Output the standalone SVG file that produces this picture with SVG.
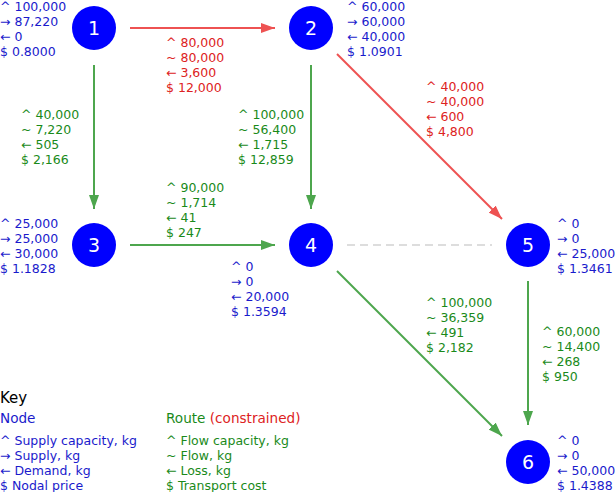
<svg xmlns="http://www.w3.org/2000/svg" width="615" height="492" viewBox="0 0 615 492">
<style>
text{font-family:"DejaVu Sans","Liberation Sans",sans-serif;font-size:12.5px}
.nb{fill:#1a1acc}
.g{fill:#1a8a1a}
.r{fill:#dd2222}
.num{fill:#ffffff;font-size:19px;text-anchor:middle}
.node{fill:#0000ff}
.eg{stroke:#4da64d;stroke-width:2;fill:none}
.er{stroke:#ee5252;stroke-width:2;fill:none}
.dash{stroke:#dddddd;stroke-width:2;stroke-dasharray:8,5;fill:none}
.key{fill:#000000;font-size:15px}
.hd{font-size:13.6px}
</style>
<defs>
<marker id="ag" viewBox="0 0 14 10" refX="14" refY="5" markerWidth="14" markerHeight="10" markerUnits="userSpaceOnUse" orient="auto"><path d="M0,0 L14,5 L0,10 Z" fill="#4da64d"/></marker>
<marker id="ar" viewBox="0 0 14 10" refX="14" refY="5" markerWidth="14" markerHeight="10" markerUnits="userSpaceOnUse" orient="auto"><path d="M0,0 L14,5 L0,10 Z" fill="#ee5252"/></marker>
</defs>
<g id="connectors">
<line class="er" x1="130" y1="28" x2="275" y2="28" marker-end="url(#ar)"/>
<line class="eg" x1="94" y1="65" x2="94" y2="209" marker-end="url(#ag)"/>
<line class="eg" x1="311" y1="65" x2="311" y2="209" marker-end="url(#ag)"/>
<line class="eg" x1="130" y1="245" x2="275" y2="245" marker-end="url(#ag)"/>
<line class="er" x1="337" y1="54" x2="502" y2="219" marker-end="url(#ar)"/>
<line class="eg" x1="337" y1="271" x2="502" y2="436" marker-end="url(#ag)"/>
<line class="eg" x1="528" y1="281" x2="528" y2="425" marker-end="url(#ag)"/>
<line class="dash" x1="347" y1="245" x2="492" y2="245"/>
<g id="label-1-2" class="r"><text x="166" y="46.5">^ 80,000</text><text x="166" y="61.5">~ 80,000</text><text x="166" y="76.5">← 3,600</text><text x="166" y="91.5">$ 12,000</text></g>
<g id="label-1-3" class="g"><text x="21" y="118.5">^ 40,000</text><text x="21" y="133.5">~ 7,220</text><text x="21" y="148.5">← 505</text><text x="21" y="163.5">$ 2,166</text></g>
<g id="label-2-4" class="g"><text x="238" y="118.5">^ 100,000</text><text x="238" y="133.5">~ 56,400</text><text x="238" y="148.5">← 1,715</text><text x="238" y="163.5">$ 12,859</text></g>
<g id="label-3-4" class="g"><text x="166" y="191.5">^ 90,000</text><text x="166" y="206.5">~ 1,714</text><text x="166" y="221.5">← 41</text><text x="166" y="236.5">$ 247</text></g>
<g id="label-2-5" class="r"><text x="426" y="90.5">^ 40,000</text><text x="426" y="105.5">~ 40,000</text><text x="426" y="120.5">← 600</text><text x="426" y="135.5">$ 4,800</text></g>
<g id="label-4-6" class="g"><text x="426" y="306.5">^ 100,000</text><text x="426" y="321.5">~ 36,359</text><text x="426" y="336.5">← 491</text><text x="426" y="351.5">$ 2,182</text></g>
<g id="label-5-6" class="g"><text x="542" y="335.5">^ 60,000</text><text x="542" y="350.5">~ 14,400</text><text x="542" y="365.5">← 268</text><text x="542" y="380.5">$ 950</text></g>
</g>
<g id="node1"><circle class="node" cx="94" cy="28" r="22"/><text class="num" x="94" y="35">1</text>
<g class="nb"><text x="0" y="10.5">^ 100,000</text><text x="0" y="25.5">→ 87,220</text><text x="0" y="40.5">← 0</text><text x="0" y="55.5">$ 0.8000</text></g></g>
<g id="node2"><circle class="node" cx="311" cy="28" r="22"/><text class="num" x="311" y="35">2</text>
<g class="nb"><text x="347" y="10.5">^ 60,000</text><text x="347" y="25.5">→ 60,000</text><text x="347" y="40.5">← 40,000</text><text x="347" y="55.5">$ 1.0901</text></g></g>
<g id="node3"><circle class="node" cx="94" cy="245" r="22"/><text class="num" x="94" y="252">3</text>
<g class="nb"><text x="0" y="227.5">^ 25,000</text><text x="0" y="242.5">→ 25,000</text><text x="0" y="257.5">← 30,000</text><text x="0" y="272.5">$ 1.1828</text></g></g>
<g id="node4"><circle class="node" cx="311" cy="245" r="22"/><text class="num" x="311" y="252">4</text>
<g class="nb"><text x="231" y="270.5">^ 0</text><text x="231" y="285.5">→ 0</text><text x="231" y="300.5">← 20,000</text><text x="231" y="315.5">$ 1.3594</text></g></g>
<g id="node5"><circle class="node" cx="528" cy="245" r="22"/><text class="num" x="528" y="252">5</text>
<g class="nb"><text x="557" y="227.5">^ 0</text><text x="557" y="242.5">→ 0</text><text x="557" y="257.5">← 25,000</text><text x="557" y="272.5">$ 1.3461</text></g></g>
<g id="node6"><circle class="node" cx="528" cy="462" r="22"/><text class="num" x="528" y="469">6</text>
<g class="nb"><text x="557" y="444.5">^ 0</text><text x="557" y="459.5">→ 0</text><text x="557" y="474.5">← 50,000</text><text x="557" y="489.5">$ 1.4388</text></g></g>
<g id="key">
<text class="key" x="0" y="402.5">Key</text>
<text class="nb hd" x="0" y="423">Node</text>
<text class="hd" x="166" y="423"><tspan class="g">Route</tspan><tspan class="r"> (constrained)</tspan></text>
<g class="nb"><text x="0" y="444.5">^ Supply capacity, kg</text><text x="0" y="459.5">→ Supply, kg</text><text x="0" y="474.5">← Demand, kg</text><text x="0" y="489.5">$ Nodal price</text></g>
<g class="g"><text x="166" y="444.5">^ Flow capacity, kg</text><text x="166" y="459.5">~ Flow, kg</text><text x="166" y="474.5">← Loss, kg</text><text x="166" y="489.5">$ Transport cost</text></g>
</g>
</svg>
